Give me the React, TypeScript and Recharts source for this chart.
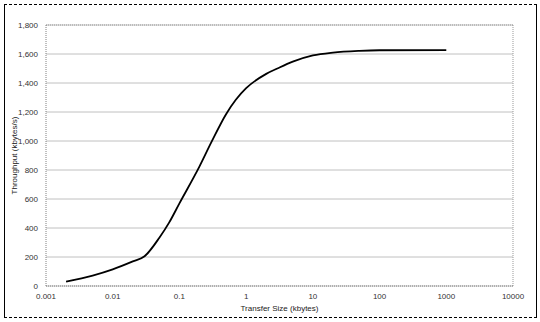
import {
  LineChart,
  Line,
  XAxis,
  YAxis,
  CartesianGrid,
  ReferenceLine,
} from "recharts";

// transfer size (kbytes) and measured throughput (kbytes/s)
const sizes = [
  0.002, 0.005, 0.01, 0.02, 0.03, 0.05, 0.07, 0.1, 0.2, 0.3, 0.5, 0.7, 1, 2, 3,
  5, 10, 20, 50, 100, 1000,
];
const throughput = [
  30, 72, 115, 170, 205, 333, 437, 570, 825, 990, 1185, 1284, 1364, 1463,
  1502, 1547, 1590, 1610, 1622, 1626, 1627,
];
const xTicks = [0.001, 0.01, 0.1, 1, 10, 100, 1000, 10000];
const yTicks = [0, 200, 400, 600, 800, 1000, 1200, 1400, 1600, 1800];

const data = sizes.map((s, i) => ({ size: s, rate: throughput[i] }));

const font = "'Liberation Sans', Arial, sans-serif";
const tickStyle = { fontSize: 8, fill: "#333", fontFamily: font };

const YTitle = ({ viewBox }: any) => {
  const cx = 14;
  const cy = viewBox.y + viewBox.height / 2;
  return (
    <text
      x={cx}
      y={cy}
      transform={`rotate(-90, ${cx}, ${cy})`}
      textAnchor="middle"
      dominantBaseline="central"
      fontSize={8}
      fontFamily={font}
      fill="#222"
    >
      Throughput (kbytes/s)
    </text>
  );
};

const XTitle = ({ viewBox }: any) => (
  <text
    x={viewBox.x + viewBox.width / 2}
    y={308}
    textAnchor="middle"
    dominantBaseline="central"
    fontSize={8}
    fontFamily={font}
    fill="#222"
  >
    Transfer Size (kbytes)
  </text>
);

export default function App() {
  return (
    <div
      style={{
        position: "absolute",
        left: 0,
        top: 0,
        width: 540,
        height: 322,
        background: "#fff",
      }}
    >
      <div
        style={{
          position: "absolute",
          left: 4,
          top: 4,
          width: 531,
          height: 312,
          borderLeft: "1px solid #000",
          borderRight: "1px solid #000",
          borderTop: "1px dashed #000",
          borderBottom: "1px dashed #000",
        }}
      />
      <div style={{ position: "absolute", left: 0, top: 0 }}>
        <LineChart
          width={540}
          height={322}
          data={data}
          margin={{ top: 25, right: 27, bottom: 0, left: 6 }}
        >
          <CartesianGrid vertical={false} stroke="#c0c0c0" />
          <XAxis
            dataKey="size"
            type="number"
            scale="log"
            domain={[0.001, 10000]}
            ticks={xTicks}
            tickFormatter={(v) => String(v)}
            tick={tickStyle}
            tickLine={false}
            tickSize={5}
            height={36}
            stroke="#808080"
            strokeDasharray="1 1"
            allowDataOverflow
            label={<XTitle />}
          />
          <YAxis
            type="number"
            domain={[0, 1800]}
            ticks={yTicks}
            tickFormatter={(v) => v.toLocaleString("en-US")}
            tick={tickStyle}
            tickLine={false}
            tickSize={6}
            width={40}
            stroke="#808080"
            strokeDasharray="1 1"
            label={<YTitle />}
          />
          <ReferenceLine y={1800} stroke="#999" strokeDasharray="1 1" />
          <ReferenceLine x={10000} stroke="#999" strokeDasharray="1 1" />
          <Line
            dataKey="rate"
            type="monotone"
            stroke="#000"
            strokeWidth={1.8}
            dot={false}
            isAnimationActive={false}
          />
        </LineChart>
      </div>
    </div>
  );
}
